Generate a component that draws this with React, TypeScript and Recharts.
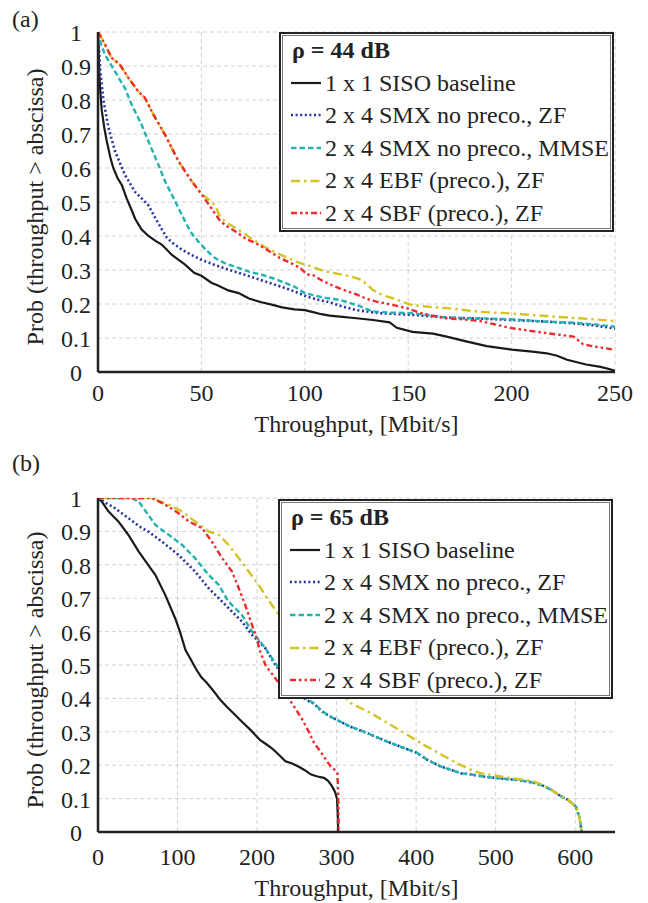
import React from 'react';
import { LineChart, Line, XAxis, YAxis, CartesianGrid, Legend } from 'recharts';

type P = [number, number];

const FONT = "'Liberation Serif', 'Times New Roman', serif";

const seriesNames = [
  '1 x 1 SISO baseline',
  '2 x 4 SMX no preco., ZF',
  '2 x 4 SMX no preco., MMSE',
  '2 x 4 EBF (preco.), ZF',
  '2 x 4 SBF (preco.), ZF',
];
const seriesColors = ['#1a1a1a', '#26339e', '#22b2b2', '#d5c41f', '#ef2a2c'];
const seriesDash = [undefined, '2 2.6', '5.5 3', '9 4 2.5 4', '6 3 2.5 3 2.5 3'];
const seriesWidth = [2.2, 2.6, 2.4, 2.4, 2.4];

const yTicks = [0, 0.1, 0.2, 0.3, 0.4, 0.5, 0.6, 0.7, 0.8, 0.9, 1];
const aTicksX = [0, 50, 100, 150, 200, 250];
const bTicksX = [0, 100, 200, 300, 400, 500, 600];

// ---- panel (a): rho = 44 dB ----
const aSiso: P[] = [[0,1],[0.3,0.95],[0.6,0.88],[1,0.835],[1.8,0.77],[3,0.72],[4.2,0.68],[6,0.63],[7.4,0.6],[9.5,0.57],[11.5,0.55],[13.9,0.51],[16,0.48],[18,0.45],[21,0.42],[24.4,0.4],[28,0.385],[30.8,0.375],[33.2,0.36],[35.6,0.345],[39,0.33],[42.1,0.316],[46.5,0.292],[50,0.283],[55,0.262],[57.5,0.256],[63,0.24],[68,0.232],[73,0.216],[79,0.205],[84,0.198],[89,0.19],[95,0.184],[100,0.182],[104,0.176],[108,0.17],[112,0.166],[117,0.163],[125,0.158],[133,0.153],[141,0.146],[144.5,0.13],[152,0.118],[162,0.113],[168.6,0.104],[178,0.09],[188,0.076],[200,0.066],[210,0.06],[217,0.055],[222,0.048],[226.8,0.036],[236,0.022],[243,0.015],[247.6,0.008],[250,0.003]];
const aZf: P[] = [[0,1],[0.5,0.95],[1,0.894],[2.6,0.8],[5,0.72],[8.2,0.65],[13,0.58],[17.9,0.53],[22,0.505],[24.4,0.49],[28.4,0.445],[33.2,0.396],[36,0.38],[40.5,0.36],[45,0.345],[50,0.33],[56,0.316],[63,0.301],[70,0.288],[76,0.276],[82,0.264],[88.9,0.25],[95,0.237],[101,0.222],[106,0.213],[112,0.205],[118,0.193],[125,0.182],[136,0.173],[152,0.168],[168.6,0.16],[184.7,0.157],[200,0.153],[217,0.148],[230,0.143],[240,0.137],[250,0.128]];
const aMmse: P[] = [[0,1],[0.5,0.99],[1,0.973],[3.4,0.933],[8.2,0.884],[13,0.835],[16.3,0.786],[21.1,0.727],[24.4,0.678],[29.2,0.61],[32.4,0.561],[37.3,0.502],[42.1,0.443],[45,0.41],[48.5,0.384],[52,0.36],[56.6,0.335],[62,0.318],[67.9,0.306],[73,0.295],[79.2,0.286],[85,0.275],[90.5,0.262],[95.3,0.25],[100,0.232],[104,0.226],[110,0.218],[117,0.212],[125,0.197],[133,0.178],[140,0.175],[152,0.173],[168.6,0.16],[184.7,0.158],[200,0.155],[217,0.148],[230,0.145],[240,0.14],[250,0.133]];
const aEbf: P[] = [[0,1],[1,0.992],[3.4,0.963],[6.6,0.924],[10.6,0.904],[14.7,0.865],[19.5,0.825],[22.7,0.806],[26.8,0.757],[32.4,0.698],[38.9,0.62],[45.3,0.561],[50.2,0.522],[53,0.51],[56.6,0.49],[59,0.457],[62,0.44],[65.5,0.427],[70,0.41],[75,0.389],[80,0.37],[86.5,0.35],[92,0.335],[97.7,0.32],[101,0.315],[108.8,0.298],[115,0.29],[123,0.28],[127,0.272],[130,0.258],[133,0.241],[138,0.225],[142.7,0.217],[148,0.205],[152,0.197],[160,0.192],[168.6,0.188],[184.7,0.177],[200,0.172],[209,0.168],[220,0.163],[233,0.158],[250,0.15]];
const aSbf: P[] = [[0,1],[1,0.99],[3.4,0.963],[6.6,0.924],[10.6,0.904],[14.7,0.865],[19.5,0.825],[22.7,0.806],[26.8,0.757],[32.4,0.698],[38.9,0.62],[45.3,0.561],[50.2,0.522],[55,0.48],[59,0.445],[62,0.43],[66.3,0.414],[72,0.39],[76,0.38],[81.6,0.36],[88,0.335],[92.8,0.322],[98,0.305],[101,0.287],[104,0.285],[108,0.27],[112,0.258],[118,0.243],[125,0.228],[130,0.215],[134.7,0.207],[142,0.198],[149,0.188],[155.7,0.174],[162,0.165],[168.6,0.158],[176,0.155],[184.7,0.15],[192,0.14],[199,0.13],[208,0.122],[217,0.114],[225,0.108],[230,0.104],[234.5,0.082],[240,0.075],[250,0.065]];

// ---- panel (b): rho = 65 dB ----
const bSiso: P[] = [[0,1],[4.6,0.99],[13,0.96],[25.6,0.93],[38,0.89],[51,0.84],[63,0.8],[72,0.77],[84.5,0.71],[97,0.64],[103,0.6],[110,0.545],[117,0.515],[124,0.485],[130,0.463],[137,0.446],[146,0.42],[154,0.395],[162,0.375],[170,0.356],[181,0.33],[192,0.305],[204,0.275],[212,0.262],[219,0.25],[228,0.23],[235.7,0.212],[244,0.205],[252,0.196],[260,0.185],[268,0.172],[276,0.166],[284,0.162],[289,0.154],[294,0.138],[298,0.12],[300.5,0.1],[301.5,0.05],[302,0]];
const bZf: P[] = [[0,1],[10,0.985],[21,0.97],[38,0.94],[55,0.91],[63,0.9],[80,0.87],[101,0.83],[122,0.78],[139,0.73],[156,0.69],[168.5,0.66],[181,0.63],[193.7,0.59],[210.5,0.55],[223,0.5],[235.7,0.46],[252,0.415],[262,0.395],[271,0.385],[282,0.36],[292.5,0.345],[305,0.33],[317.6,0.315],[338.7,0.296],[359,0.275],[380.7,0.255],[401.7,0.236],[414,0.216],[431,0.196],[445,0.185],[456,0.176],[470,0.172],[485,0.166],[506.7,0.16],[527.8,0.156],[548.6,0.147],[560,0.138],[570,0.126],[580,0.11],[590.8,0.096],[601,0.076],[603,0.06],[605,0.046],[607,0.02],[608,0]];
const bMmse: P[] = [[0,1],[13,1],[42,1],[51,0.99],[57,0.97],[63,0.95],[72,0.92],[80,0.905],[88.7,0.89],[105.5,0.86],[122,0.82],[139,0.77],[151.7,0.74],[164,0.69],[181,0.65],[193.7,0.6],[210.5,0.55],[223,0.505],[235.7,0.465],[252,0.42],[262,0.398],[271,0.386],[282,0.362],[292.5,0.345],[305,0.33],[317.6,0.315],[338.7,0.296],[359,0.275],[380.7,0.255],[401.7,0.236],[414,0.216],[431,0.196],[445,0.185],[456,0.176],[470,0.172],[485,0.166],[506.7,0.16],[527.8,0.156],[548.6,0.147],[560,0.138],[570,0.126],[580,0.11],[590.8,0.096],[601,0.076],[603,0.06],[605,0.046],[607,0.02],[608,0]];
const bEbf: P[] = [[0,1],[40,1],[67.6,1],[88.7,0.98],[105.5,0.96],[122,0.93],[139,0.9],[151.7,0.89],[164,0.86],[177,0.82],[189.5,0.78],[202,0.74],[212.6,0.7],[223,0.665],[240,0.61],[260,0.55],[280,0.49],[300,0.43],[317.6,0.386],[343,0.356],[372,0.315],[393,0.285],[410,0.26],[422,0.245],[433,0.23],[443.7,0.216],[452,0.205],[460,0.196],[470,0.185],[481.5,0.176],[506.7,0.166],[530,0.158],[548.6,0.151],[560,0.14],[570,0.126],[580,0.11],[590.8,0.096],[601,0.076],[605,0.046],[607,0.02],[608,0]];
const bSbf: P[] = [[0,1],[55,1],[67.6,1],[84.5,0.98],[101,0.955],[114,0.93],[130.7,0.91],[143,0.87],[156,0.82],[168.5,0.78],[177,0.73],[185,0.68],[193.7,0.62],[198,0.59],[204,0.54],[210.5,0.5],[223,0.46],[235.7,0.415],[248,0.37],[256,0.34],[264,0.305],[272,0.265],[280,0.24],[287,0.215],[292.5,0.196],[298,0.185],[301,0.176],[302,0.12],[302.5,0.05],[302.5,0]];

const toRows = (pts: P[]) => pts.map(([x, y]) => ({ x, y }));

const fmtY = (v: number) => (v === 0 ? '0' : v === 1 ? '1' : v.toFixed(1));

const XTick = (props: any) => {
  const { x, y, payload, dyc } = props;
  return (
    <text x={x} y={y + dyc} textAnchor="middle" dominantBaseline="central" fontFamily={FONT} fontSize={24} fill="#222">
      {payload.value}
    </text>
  );
};

const YTick = (props: any) => {
  const { x, y, payload } = props;
  return (
    <text x={x - 22} y={y + 1} textAnchor="middle" dominantBaseline="central" fontFamily={FONT} fontSize={24} fill="#222">
      {fmtY(payload.value)}
    </text>
  );
};

const LegendBox = ({ rho }: { rho: number }) => (
  <div
    style={{
      width: 335,
      height: 200,
      boxSizing: 'border-box',
      border: '2px solid #222',
      boxShadow: 'inset 0 0 0 1px #fff, inset 0 0 0 2px #777',
      background: '#fff',
      fontFamily: FONT,
      fontSize: 24,
      color: '#222',
      lineHeight: '32.6px',
    }}
  >
    <div style={{ paddingLeft: 11, fontWeight: 'bold', height: 32.6 }}>ρ = {rho} dB</div>
    {seriesNames.map((n, i) => (
      <div key={n} style={{ display: 'flex', alignItems: 'center', height: 32.6 }}>
        <svg width={34} height={12} style={{ marginLeft: 9, marginRight: 1, flex: 'none' }}>
          <line x1={1} x2={31} y1={6} y2={6} stroke={seriesColors[i]} strokeWidth={seriesWidth[i]} strokeDasharray={seriesDash[i]} />
        </svg>
        <span style={{ whiteSpace: 'nowrap' }}>{n}</span>
      </div>
    ))}
  </div>
);

type PanelProps = {
  series: P[][];
  xDomain: [number, number];
  xTicks: number[];
  rho: number;
  height: number;
  marginTop: number;
  marginBottom: number;
  xTickDy: number;
  xLabelDy: number;
  legendLeft: number;
  legendTop: number;
};

const Panel = (p: PanelProps) => (
  <LineChart width={648} height={p.height} margin={{ top: p.marginTop, right: 33, bottom: p.marginBottom, left: 38 }}>
    <CartesianGrid stroke="#d2d2d2" strokeDasharray="4 3" strokeWidth={1} verticalValues={p.xTicks} horizontalValues={yTicks} />
    <XAxis
      type="number"
      dataKey="x"
      domain={p.xDomain}
      ticks={p.xTicks}
      allowDataOverflow
      tickLine={false}
      tickSize={0}
      tickMargin={0}
      height={30}
      axisLine={{ stroke: '#222', strokeWidth: 2.5 }}
      tick={<XTick dyc={p.xTickDy} />}
      label={(lp: any) => {
        const vb = lp.viewBox || {};
        return (
          <text x={vb.x + vb.width / 2} y={vb.y + p.xLabelDy} textAnchor="middle" dominantBaseline="central" fontFamily={FONT} fontSize={24} fill="#222">
            Throughput, [Mbit/s]
          </text>
        );
      }}
    />
    <YAxis
      type="number"
      domain={[0, 1]}
      ticks={yTicks}
      allowDataOverflow
      width={60}
      tickLine={false}
      tickSize={0}
      tickMargin={0}
      axisLine={{ stroke: '#222', strokeWidth: 2.5 }}
      tick={<YTick />}
      label={(lp: any) => {
        const vb = lp.viewBox || {};
        const cx = vb.x + vb.width - 63;
        const cy = vb.y + vb.height / 2 + 5;
        return (
          <text x={cx} y={cy} transform={`rotate(-90 ${cx} ${cy})`} textAnchor="middle" dominantBaseline="central" fontFamily={FONT} fontSize={24} fill="#222">
            Prob (throughput &gt; abscissa)
          </text>
        );
      }}
    />
    <XAxis xAxisId="top" orientation="top" type="number" domain={p.xDomain} ticks={p.xTicks} height={0} tick={false} tickLine={false} axisLine={{ stroke: '#222', strokeWidth: 2.5 }} />
    <YAxis yAxisId="right" orientation="right" type="number" domain={[0, 1]} ticks={yTicks} width={0} tick={false} tickLine={false} axisLine={{ stroke: '#222', strokeWidth: 2.5 }} />
    {p.series.map((s, i) => (
      <Line
        key={seriesNames[i]}
        data={toRows(s)}
        dataKey="y"
        name={seriesNames[i]}
        type="linear"
        stroke={seriesColors[i]}
        strokeWidth={seriesWidth[i]}
        strokeDasharray={seriesDash[i]}
        dot={false}
        activeDot={false}
        isAnimationActive={false}
      />
    ))}
    <Legend
      layout="vertical"
      align="center"
      verticalAlign="middle"
      content={() => <LegendBox rho={p.rho} />}
      wrapperStyle={{ left: p.legendLeft, top: p.legendTop, width: 335, height: 200 }}
    />
  </LineChart>
);

const panelLabelStyle: React.CSSProperties = {
  position: 'absolute',
  left: 12,
  fontFamily: FONT,
  fontSize: 24,
  lineHeight: '24px',
  color: '#222',
};

export default function App() {
  return (
    <div style={{ position: 'absolute', left: 0, top: 0, width: 648, height: 903, background: '#fff', overflow: 'hidden' }}>
      <div style={{ ...panelLabelStyle, top: 7 }}>(a)</div>
      <div style={{ ...panelLabelStyle, top: 451 }}>(b)</div>
      <div style={{ position: 'absolute', left: 0, top: 0 }}>
        <Panel
          series={[aSiso, aZf, aMmse, aEbf, aSbf]}
          xDomain={[0, 250]}
          xTicks={aTicksX}
          rho={44}
          height={450}
          marginTop={32}
          marginBottom={48}
          xTickDy={21}
          xLabelDy={52}
          legendLeft={279}
          legendTop={32}
        />
      </div>
      <div style={{ position: 'absolute', left: 0, top: 450 }}>
        <Panel
          series={[bSiso, bZf, bMmse, bEbf, bSbf]}
          xDomain={[0, 650]}
          xTicks={bTicksX}
          rho={65}
          height={453}
          marginTop={48}
          marginBottom={41}
          xTickDy={25}
          xLabelDy={56}
          legendLeft={278}
          legendTop={49}
        />
      </div>
    </div>
  );
}
